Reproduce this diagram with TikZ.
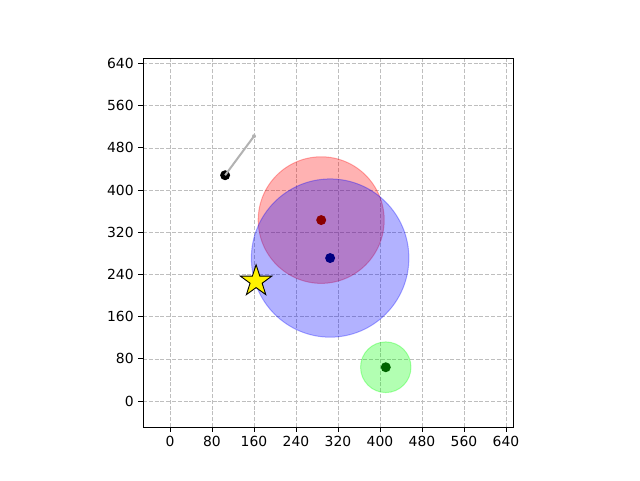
\documentclass[tikz,border=0pt]{standalone}
\usepackage{fontspec}
\setmainfont{DejaVu Sans}
\usetikzlibrary{shapes.geometric}

\begin{document}
\begin{tikzpicture}[x=1pt,y=1pt,line join=miter]
  % Colors
  \colorlet{redzone}{red}
  \colorlet{bluezone}{blue}
  \colorlet{greenzone}{green}
  \definecolor{navyblue}{RGB}{0,0,128}
  \definecolor{deepred}{RGB}{139,0,0}
  \definecolor{deepgreen}{RGB}{0,100,0}
  \definecolor{pathgray}{RGB}{178,178,178}
  \definecolor{gridgray}{RGB}{190,190,190}

  % Styles
  \tikzstyle{grid line}=[gridgray,line width=0.5pt,dash pattern=on 4pt off 1.8pt]
  \tikzstyle{zone}=[line width=1pt,fill opacity=0.3,draw opacity=0.3]
  \tikzstyle{center dot}=[circle,inner sep=0pt,minimum size=10pt]
  \tikzstyle{tick label}=[font=\fontsize{13.9}{16}\selectfont,inner sep=0pt]

  \useasboundingbox[fill=white] (0,0) rectangle (640,480);

  % The graphic (data coordinates)
  \begin{scope}[shift={(170pt,79pt)},x=0.525pt,y=0.5275pt]
    \foreach \v in {0,80,...,640} {
      \draw[style=grid line] (\v,-49.3) -- (\v,650);
      \draw[style=grid line] (-51.4,\v) -- (653.3,\v);
    }

    \filldraw[style=zone,fill=redzone,draw=redzone] (288,343) circle (120);
    \filldraw[style=zone,fill=bluezone,draw=bluezone] (305,271) circle (150);
    \filldraw[style=zone,fill=greenzone,draw=greenzone] (411,64) circle (48);

    \node[center dot,fill=deepred] (red center) at (288,343) {};
    \node[center dot,fill=navyblue] (blue center) at (305,271) {};
    \node[center dot,fill=deepgreen] (green center) at (411,64) {};

    \node[center dot,fill=black] (walker) at (105,428) {};
    \node[circle,fill=pathgray,inner sep=0pt,minimum size=4pt] (goal) at (160,502) {};
    \draw[pathgray,line width=2pt] (walker.center) -- (goal.center);

    \node[star,star points=5,star point ratio=2.6,minimum size=33pt,inner sep=0pt,
      fill=yellow,draw=black,line width=0.9pt] (target) at (164,227) {};

    % Axes
    \draw[line width=0.9pt] (-51.4,-49.3) rectangle (653.3,650);

    \foreach \x in {0,80,...,640}
      \draw[line width=0.9pt] (\x,-49.3) -- ++(0,-4.9pt)
        node[tick label,below=4pt] (xlab\x) {\x};

    \foreach \y in {0,80,...,640}
      \draw[line width=0.9pt] (-51.4,\y) -- ++(-4.9pt,0)
        node[tick label,left=4pt] (ylab\y) {\y};
  \end{scope}
\end{tikzpicture}
\end{document}
